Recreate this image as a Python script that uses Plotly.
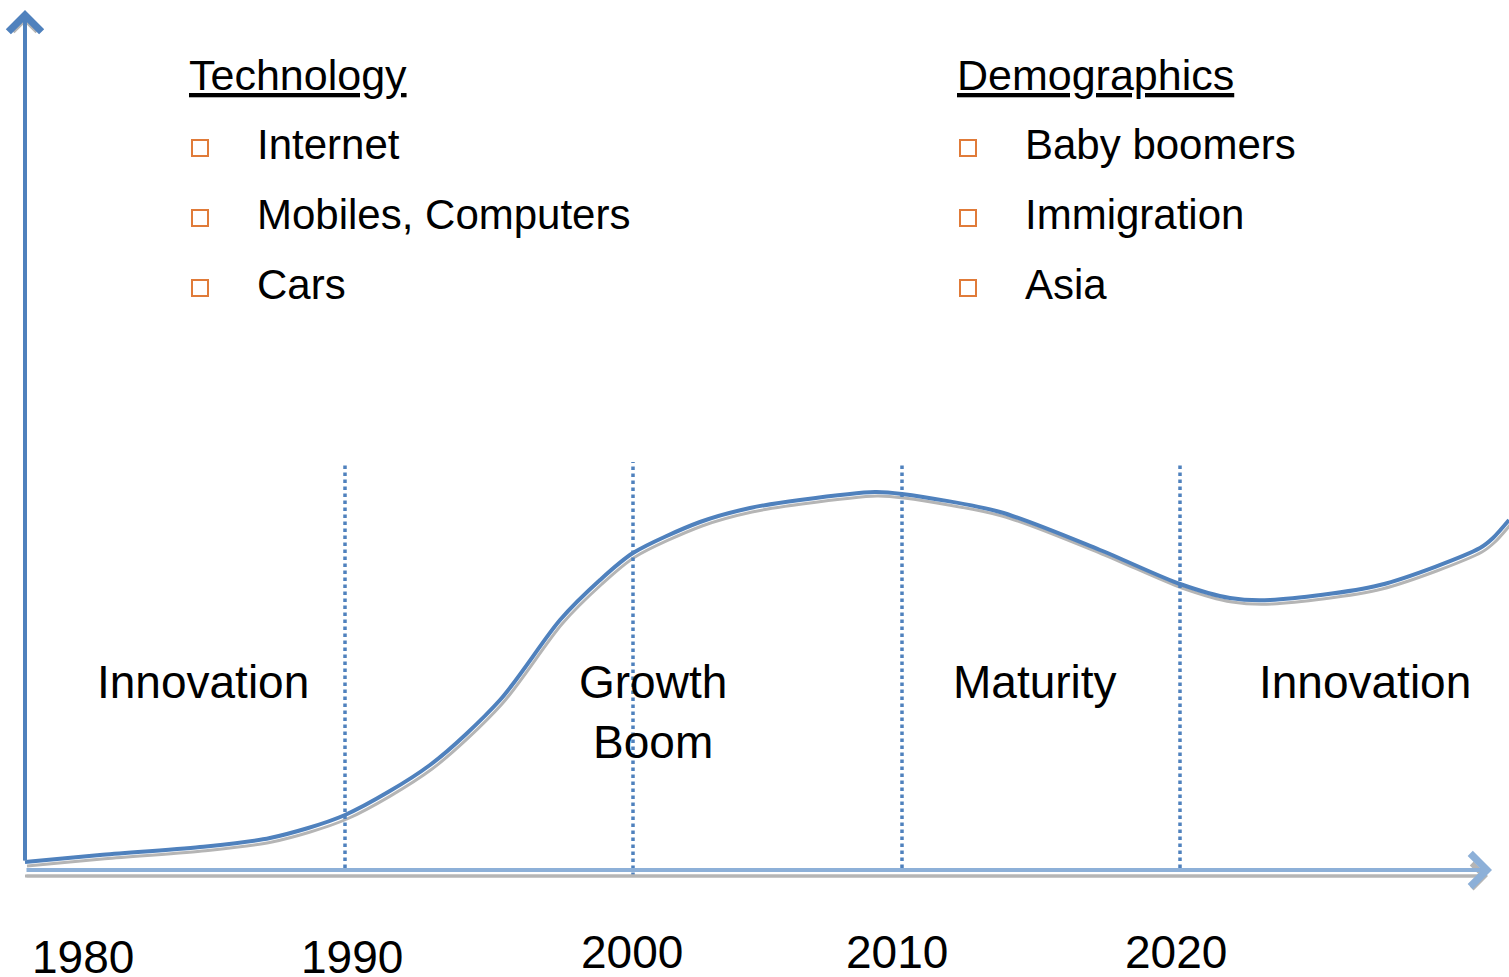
import plotly.graph_objects as go

# ---- data (timeline position, level) ----
curve_x = [25, 100, 200, 270, 345, 430, 500, 560, 600, 633, 700, 750, 800, 875, 902,
           1000, 1100, 1180, 1230, 1270, 1380, 1480, 1493, 1509]
curve_y = [0, 7, 15, 24, 47, 97, 162, 242, 282, 309, 340, 354, 362, 370, 368,
           350, 312, 278, 264, 262, 277, 314, 324, 342]

phase_bounds = [345, 633, 902, 1180]
phase_labels = ["Innovation", "Growth<br>Boom", "Maturity", "Innovation"]
phase_label_x = [203, 653, 1035, 1365]

year_labels = ["1980", "1990", "2000", "2010", "2020"]
year_x = [83, 352, 632, 897, 1176]
year_y = [-95, -95, -90, -90, -90]

tech_items = ["Internet", "Mobiles, Computers", "Cars"]
demo_items = ["Baby boomers", "Immigration", "Asia"]
item_levels = [717, 647, 577]

FONT = "Liberation Sans, Arial, sans-serif"
BLUE = "#4F81BD"
LIGHTBLUE = "#8DB0D8"
GRAY = "#B5B5B5"
ORANGE = "#E07B39"

fig = go.Figure()

# shadow of curve
fig.add_trace(go.Scatter(x=[v + 2 for v in curve_x], y=[v - 4 for v in curve_y],
                         mode="lines", line=dict(color=GRAY, width=3, shape="spline", smoothing=0.8),
                         hoverinfo="skip", showlegend=False))
# curve
fig.add_trace(go.Scatter(x=curve_x, y=curve_y, mode="lines",
                         line=dict(color=BLUE, width=4, shape="spline", smoothing=0.8),
                         showlegend=False))

# bullets
fig.add_trace(go.Scatter(x=[200] * 3 + [968] * 3, y=[v - 3 for v in item_levels] * 2, mode="markers",
                         marker=dict(symbol="square-open", size=16, color=ORANGE, line=dict(width=2)),
                         showlegend=False, hoverinfo="skip"))

shapes = []
for b in phase_bounds:
    shapes.append(dict(type="line", x0=b, x1=b, y0=-6 if b != 633 else -14, y1=400,
                       xref="x", yref="y", line=dict(color=BLUE, width=3.5, dash="dot")))
# horizontal axis shadow
shapes.append(dict(type="line", x0=25, x1=1480, y0=-14, y1=-14, xref="x", yref="y",
                   line=dict(color=GRAY, width=3)))
fig.update_layout(shapes=shapes)

ann = []
# axes arrows (shadows first)
ann.append(dict(x=1488, y=-14, ax=25, ay=-14, xref="x", yref="y", axref="x", ayref="y",
                showarrow=True, arrowhead=4, arrowsize=1.6, arrowwidth=3, arrowcolor=GRAY, text=""))
ann.append(dict(x=1492, y=-8, ax=25, ay=-8, xref="x", yref="y", axref="x", ayref="y",
                showarrow=True, arrowhead=4, arrowsize=1.6, arrowwidth=4, arrowcolor=LIGHTBLUE, text=""))
ann.append(dict(x=25, y=847, ax=25, ay=0, xref="x", yref="y", axref="x", ayref="y",
                showarrow=True, arrowhead=4, arrowsize=1.6, arrowwidth=3, arrowcolor=GRAY, text=""))
ann.append(dict(x=25, y=852, ax=25, ay=0, xref="x", yref="y", axref="x", ayref="y",
                showarrow=True, arrowhead=4, arrowsize=1.6, arrowwidth=4, arrowcolor=BLUE, text=""))

# headings
ann.append(dict(x=187, y=787, xref="x", yref="y", text="<u>Technology</u>", showarrow=False,
                xanchor="left", font=dict(family=FONT, size=43, color="black")))
ann.append(dict(x=955, y=787, xref="x", yref="y", text="<u>Demographics</u>", showarrow=False,
                xanchor="left", font=dict(family=FONT, size=43, color="black")))
for t, lv in zip(tech_items, item_levels):
    ann.append(dict(x=255, y=lv + 1, xref="x", yref="y", text=t, showarrow=False,
                    xanchor="left", font=dict(family=FONT, size=42, color="black")))
for t, lv in zip(demo_items, item_levels):
    ann.append(dict(x=1023, y=lv + 1, xref="x", yref="y", text=t, showarrow=False,
                    xanchor="left", font=dict(family=FONT, size=42, color="black")))

# phase labels
for t, px in zip(phase_labels, phase_label_x):
    ann.append(dict(x=px, y=208, xref="x", yref="y", text=t, showarrow=False,
                    xanchor="center", yanchor="top",
                    font=dict(family=FONT, size=46, color="black")))

# year labels
for t, px, py in zip(year_labels, year_x, year_y):
    ann.append(dict(x=px, y=py, xref="x", yref="y", text=t, showarrow=False,
                    xanchor="center", font=dict(family=FONT, size=46, color="black")))

fig.update_layout(annotations=ann)

fig.update_layout(
    width=1509, height=977,
    margin=dict(l=0, r=0, t=0, b=0),
    paper_bgcolor="white", plot_bgcolor="white",
    xaxis=dict(range=[0, 1509], visible=False, fixedrange=True),
    yaxis=dict(range=[-115, 862], visible=False, fixedrange=True),
    showlegend=False,
)

fig.write_html("out.html", config={"displayModeBar": False},
               post_script="document.body.style.margin='0';document.body.style.overflow='hidden';")
